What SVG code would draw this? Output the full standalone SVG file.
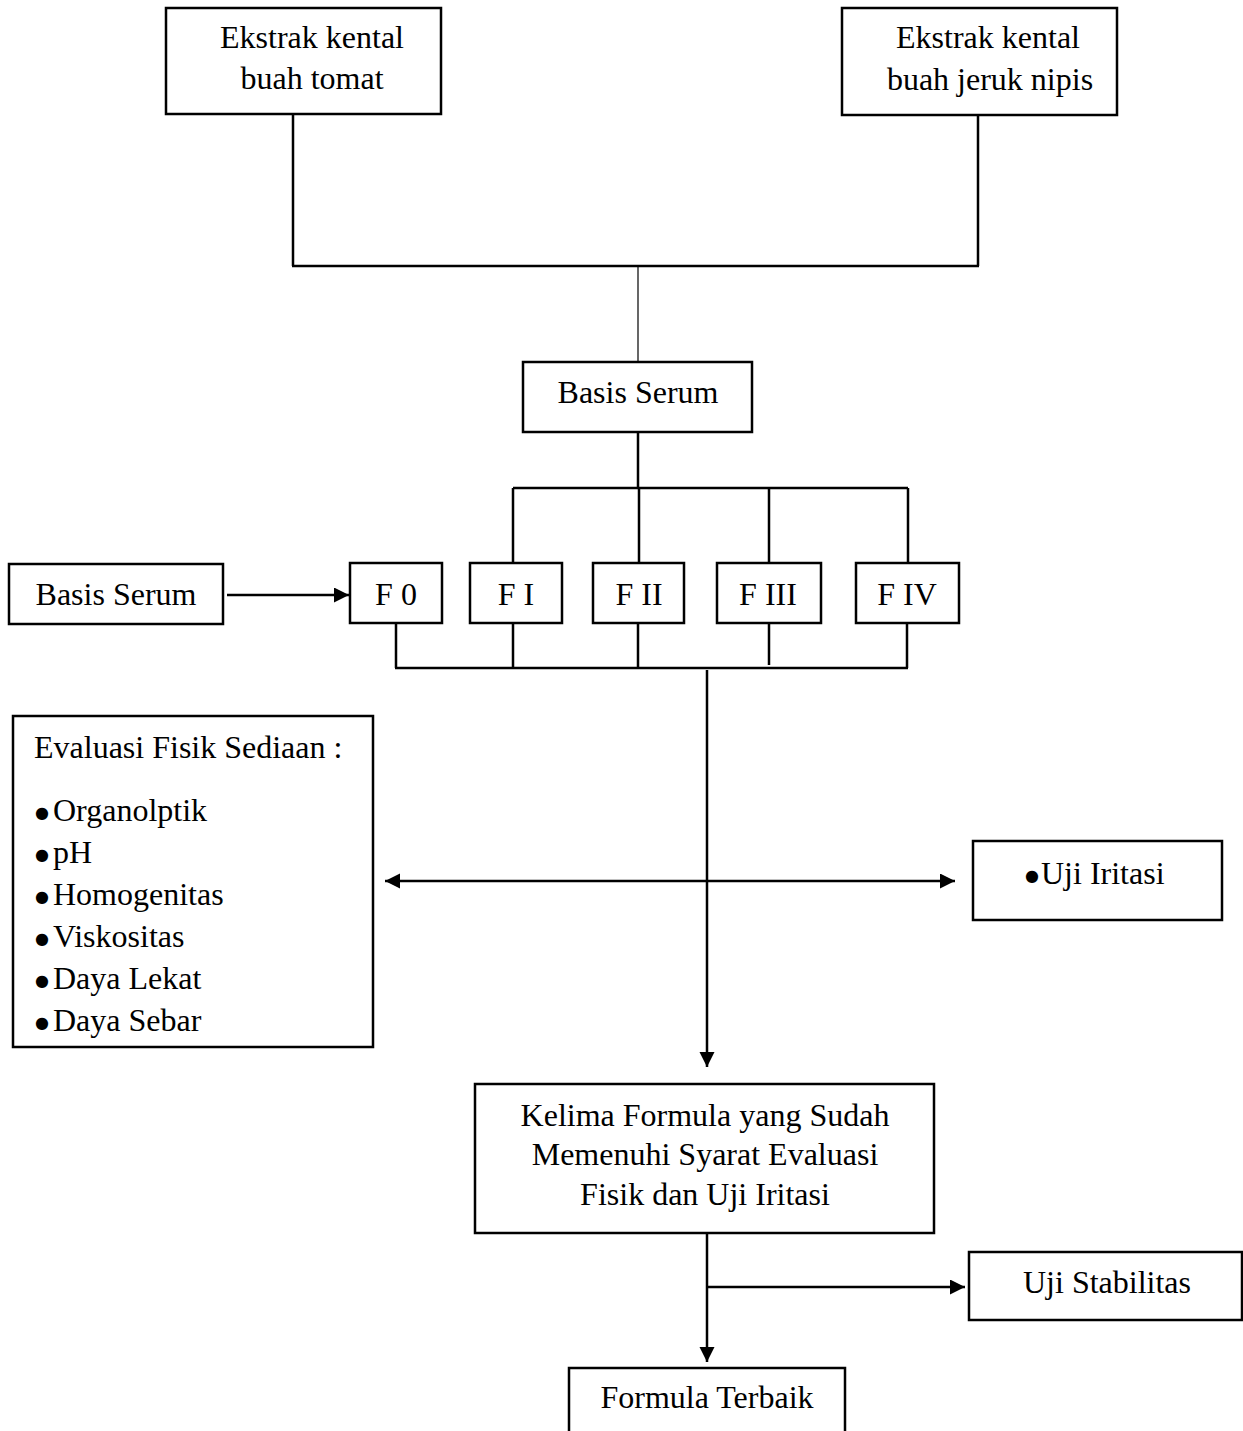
<svg xmlns="http://www.w3.org/2000/svg" width="1243" height="1431" viewBox="0 0 1243 1431">
<style>
.box{fill:#fff;stroke:#000;stroke-width:2.5}
.ln{fill:none;stroke:#000;stroke-width:2.5}
.thin{fill:none;stroke:#000;stroke-width:1.2}
text{font-family:"Liberation Serif","Times New Roman",serif;font-size:32px;fill:#000}
.c{text-anchor:middle}
.b{font-family:"DejaVu Sans",sans-serif;font-size:16px}
</style>
<defs>
<marker id="ah" markerUnits="userSpaceOnUse" markerWidth="16" markerHeight="16" refX="15" refY="7.5" orient="auto-start-reverse">
<path d="M0,0 L15,7.5 L0,15 z" fill="#000"/>
</marker>
</defs>
<rect width="1243" height="1431" fill="#fff"/>
<g id="connectors">
<path class="ln" d="M293,114 V266 M978,115 V266 M292,266 H979"/>
<path class="thin" d="M638,266 V362"/>
<path class="ln" d="M638,432 V488 M513,488 H908 M513,488 V563 M639,488 V563 M769,488 V563 M908,488 V563"/>
<path class="ln" d="M227,595 H349" marker-end="url(#ah)"/>
<path class="ln" d="M396,623 V668 M513,623 V668 M638,623 V668 M769,623 V665 M907,623 V668 M395,668 H908"/>
<path class="ln" d="M707,670 V1067" marker-end="url(#ah)"/>
<path class="ln" d="M385,881 H955" marker-start="url(#ah)" marker-end="url(#ah)"/>
<path class="ln" d="M707,1233 V1362" marker-end="url(#ah)"/>
<path class="ln" d="M707,1287 H965" marker-end="url(#ah)"/>
</g>
<g id="n-tomat">
<rect class="box" x="166" y="8" width="275" height="106"/>
<text class="c" x="312" y="48">Ekstrak kental</text>
<text class="c" x="312" y="89">buah tomat</text>
</g>
<g id="n-jeruk">
<rect class="box" x="842" y="8" width="275" height="107"/>
<text class="c" x="988" y="48">Ekstrak kental</text>
<text class="c" x="990" y="90">buah jeruk nipis</text>
</g>
<g id="n-basis1">
<rect class="box" x="523" y="362" width="229" height="70"/>
<text class="c" x="638" y="403">Basis Serum</text>
</g>
<g id="n-basis2">
<rect class="box" x="9" y="564" width="214" height="60"/>
<text class="c" x="116" y="605">Basis Serum</text>
</g>
<g id="n-f0">
<rect class="box" x="350" y="563" width="92" height="60"/>
<text class="c" x="396" y="605">F 0</text>
</g>
<g id="n-f1">
<rect class="box" x="470" y="563" width="92" height="60"/>
<text class="c" x="516" y="605">F I</text>
</g>
<g id="n-f2">
<rect class="box" x="593" y="563" width="91" height="60"/>
<text class="c" x="639" y="605">F II</text>
</g>
<g id="n-f3">
<rect class="box" x="717" y="563" width="104" height="60"/>
<text class="c" x="768" y="605">F III</text>
</g>
<g id="n-f4">
<rect class="box" x="856" y="563" width="103" height="60"/>
<text class="c" x="907" y="605">F IV</text>
</g>
<g id="n-evaluasi">
<rect class="box" x="13" y="716" width="360" height="331"/>
<text x="34" y="758">Evaluasi Fisik Sediaan :</text>
<text><tspan class="b" x="35" y="818">●</tspan><tspan x="53" y="821">Organolptik</tspan></text>
<text><tspan class="b" x="35" y="860">●</tspan><tspan x="53" y="863">pH</tspan></text>
<text><tspan class="b" x="35" y="902">●</tspan><tspan x="53" y="905">Homogenitas</tspan></text>
<text><tspan class="b" x="35" y="944">●</tspan><tspan x="53" y="947">Viskositas</tspan></text>
<text><tspan class="b" x="35" y="986">●</tspan><tspan x="53" y="989">Daya Lekat</tspan></text>
<text><tspan class="b" x="35" y="1028">●</tspan><tspan x="53" y="1031">Daya Sebar</tspan></text>
</g>
<g id="n-iritasi">
<rect class="box" x="973" y="841" width="249" height="79"/>
<text><tspan class="b" x="1025" y="881">●</tspan><tspan x="1041" y="884">Uji Iritasi</tspan></text>
</g>
<g id="n-kelima">
<rect class="box" x="475" y="1084" width="459" height="149"/>
<text class="c" x="705" y="1126">Kelima Formula yang Sudah</text>
<text class="c" x="705" y="1165">Memenuhi Syarat Evaluasi</text>
<text class="c" x="705" y="1205">Fisik dan Uji Iritasi</text>
</g>
<g id="n-stabilitas">
<rect class="box" x="969" y="1252" width="273" height="68"/>
<text class="c" x="1107" y="1293">Uji Stabilitas</text>
</g>
<g id="n-terbaik">
<rect class="box" x="569" y="1368" width="276" height="80"/>
<text class="c" x="707" y="1408">Formula Terbaik</text>
</g>
</svg>
